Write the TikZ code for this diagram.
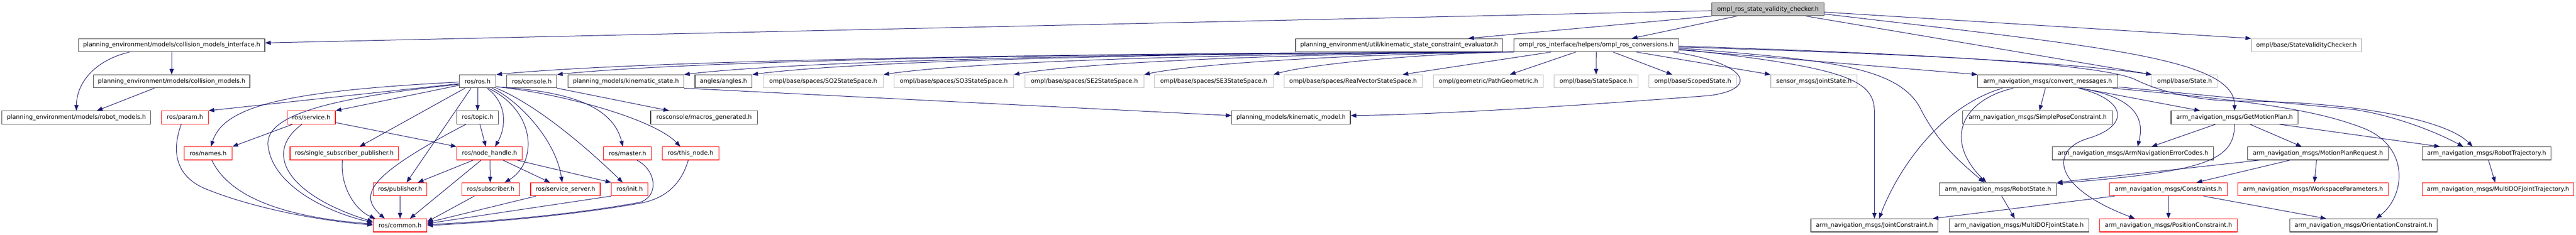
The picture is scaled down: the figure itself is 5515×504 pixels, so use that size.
\documentclass[tikz,border=0pt]{standalone}
\usepackage{fontspec}
\setmainfont{DejaVu Sans}
\usetikzlibrary{arrows.meta}
\definecolor{edgeblue}{HTML}{191970}
\definecolor{docgray}{HTML}{404040}
\definecolor{extgray}{HTML}{BFBFBF}
\definecolor{curfill}{HTML}{BFBFBF}
\definecolor{truncred}{HTML}{FF0000}
\newcommand{\depfont}{\fontsize{12.8pt}{15pt}\selectfont}
\tikzset{
  hdrbox/.style={draw, line width=1.3pt, inner sep=0pt, minimum height=28pt, font=\depfont},
  docbox/.style={hdrbox, draw=docgray},
  redbox/.style={hdrbox, draw=truncred},
  extbox/.style={hdrbox, draw=extgray},
  curbox/.style={hdrbox, draw=docgray, fill=curfill},
  bw/.style={minimum width=#1pt},
  dep/.style={draw=edgeblue, line width=1.1pt, -{Triangle[length=12pt,width=9pt]}}
}
\begin{document}
\begin{tikzpicture}[x=1pt, y=-1pt]
\useasboundingbox (0,0) rectangle (5515,504);
\node[curbox, bw=240] (checker) at (3785,20) {ompl\_ros\_state\_validity\_checker.h};
\node[docbox, bw=399] (cmi) at (367.5,97) {planning\_environment/models/collision\_models\_interface.h};
\node[docbox, bw=443] (ksce) at (2995.5,97) {planning\_environment/util/kinematic\_state\_constraint\_evaluator.h};
\node[docbox, bw=353] (conversions) at (3417.5,97) {ompl\_ros\_interface/helpers/ompl\_ros\_conversions.h};
\node[extbox, bw=236] (svchecker) at (4938,97) {ompl/base/StateValidityChecker.h};
\node[docbox, bw=335] (cmodels) at (367.5,174.5) {planning\_environment/models/collision\_models.h};
\node[docbox, bw=79] (ros) at (1022.5,174.5) {ros/ros.h};
\node[docbox, bw=107] (console) at (1138.5,174.5) {ros/console.h};
\node[docbox, bw=248] (kstate) at (1340,174.5) {planning\_models/kinematic\_state.h};
\node[docbox, bw=122] (angles) at (1549,174.5) {angles/angles.h};
\node[extbox, bw=257] (so2) at (1762.5,174.5) {ompl/base/spaces/SO2StateSpace.h};
\node[extbox, bw=256] (so3) at (2042,174.5) {ompl/base/spaces/SO3StateSpace.h};
\node[extbox, bw=255] (se2) at (2321.5,174.5) {ompl/base/spaces/SE2StateSpace.h};
\node[extbox, bw=255] (se3) at (2598.5,174.5) {ompl/base/spaces/SE3StateSpace.h};
\node[extbox, bw=296] (rvec) at (2897,174.5) {ompl/base/spaces/RealVectorStateSpace.h};
\node[extbox, bw=235] (pathg) at (3186.5,174.5) {ompl/geometric/PathGeometric.h};
\node[extbox, bw=180] (sspace) at (3417,174.5) {ompl/base/StateSpace.h};
\node[extbox, bw=188] (scoped) at (3624,174.5) {ompl/base/ScopedState.h};
\node[extbox, bw=185] (jstate) at (3883.5,174.5) {sensor\_msgs/JointState.h};
\node[docbox, bw=300] (convert) at (4384,174.5) {arm\_navigation\_msgs/convert\_messages.h};
\node[extbox, bw=140] (ostate) at (4677,174.5) {ompl/base/State.h};
\node[docbox, bw=319] (robot) at (163.5,252) {planning\_environment/models/robot\_models.h};
\node[redbox, bw=100] (param) at (396,252) {ros/param.h};
\node[redbox, bw=103] (service) at (666.5,252) {ros/service.h};
\node[docbox, bw=89] (topic) at (1022.5,252) {ros/topic.h};
\node[docbox, bw=229] (macros) at (1507.5,252) {rosconsole/macros\_generated.h};
\node[docbox, bw=254] (kmodel) at (2764,252) {planning\_models/kinematic\_model.h};
\node[docbox, bw=321] (spose) at (4362.5,252) {arm\_navigation\_msgs/SimplePoseConstraint.h};
\node[docbox, bw=272] (gmp) at (4784,252) {arm\_navigation\_msgs/GetMotionPlan.h};
\node[redbox, bw=103] (names) at (445.5,329) {ros/names.h};
\node[redbox, bw=232] (ssp) at (737,329) {ros/single\_subscriber\_publisher.h};
\node[redbox, bw=140] (nh) at (1048,329) {ros/node\_handle.h};
\node[redbox, bw=103] (master) at (1343.5,329) {ros/master.h};
\node[redbox, bw=121] (thisnode) at (1478.5,329) {ros/this\_node.h};
\node[docbox, bw=345] (errc) at (4566.5,329) {arm\_navigation\_msgs/ArmNavigationErrorCodes.h};
\node[docbox, bw=301] (mpr) at (4962.5,329) {arm\_navigation\_msgs/MotionPlanRequest.h};
\node[docbox, bw=275] (traj) at (5323.5,329) {arm\_navigation\_msgs/RobotTrajectory.h};
\node[redbox, bw=115] (pub) at (856.5,406) {ros/publisher.h};
\node[redbox, bw=123] (sub) at (1050.5,406) {ros/subscriber.h};
\node[redbox, bw=149] (ssrv) at (1210.5,406) {ros/service\_server.h};
\node[redbox, bw=78] (init) at (1348,406) {ros/init.h};
\node[docbox, bw=251] (rstate) at (4277.5,406) {arm\_navigation\_msgs/RobotState.h};
\node[redbox, bw=253] (cons) at (4642.5,406) {arm\_navigation\_msgs/Constraints.h};
\node[redbox, bw=322] (wsp) at (4952,406) {arm\_navigation\_msgs/WorkspaceParameters.h};
\node[redbox, bw=324] (mdjt) at (5348,406) {arm\_navigation\_msgs/MultiDOFJointTrajectory.h};
\node[redbox, bw=115] (common) at (856.5,483.5) {ros/common.h};
\node[docbox, bw=272] (jcons) at (4013,483.5) {arm\_navigation\_msgs/JointConstraint.h};
\node[docbox, bw=299] (mdjs) at (4322.5,483.5) {arm\_navigation\_msgs/MultiDOFJointState.h};
\node[redbox, bw=295] (pcons) at (4642.5,483.5) {arm\_navigation\_msgs/PositionConstraint.h};
\node[docbox, bw=316] (ocons) at (5060,483.5) {arm\_navigation\_msgs/OrientationConstraint.h};

\draw[dep] ([yshift=-3pt]checker.west) -- ([yshift=5pt]cmi.east);
\draw[dep] (checker.south west) -- ([xshift=148pt]ksce.north);
\draw[dep] ([xshift=-67pt]checker.south) -- ([xshift=76pt]conversions.north);
\draw[dep] ([yshift=-6pt]checker.east) -- (svchecker.north west);
\draw[dep] ([yshift=-10pt]checker.east) .. controls (4500,100) and (4784,125) .. (gmp.north);
\draw[dep] ([xshift=82pt]checker.south) -- (ostate.north west);

\draw[dep] ([xshift=-90pt]cmi.south) .. controls (200,130) and (164,180) .. (robot.north);
\draw[dep] (cmi) -- (cmodels);
\draw[dep] ([xshift=-37pt]cmodels.south) -- ([xshift=44pt]robot.north);

\draw[dep] ([yshift=-5pt]ros.west) -- (param.north east);
\draw[dep] ([yshift=-1.5pt]ros.west) .. controls (620,195) and (480,225) .. ([xshift=6pt]names.north);
\draw[dep] ([yshift=-6.5pt]ros.west) .. controls (650,215) and (560,260) .. (575,320) .. controls (590,400) and (700,455) .. ([yshift=6pt]common.west);
\draw[dep] ([yshift=-8.5pt]ros.west) -- (service.north east);
\draw[dep] ([xshift=-27pt]ros.south) -- ([xshift=33pt]ssp.north);
\draw[dep] ([xshift=-14pt]ros.south) -- ([xshift=14pt]pub.north);
\draw[dep] (ros) -- (topic);
\draw[dep] ([xshift=20pt]ros.south) .. controls (1085,220) and (1085,270) .. ([xshift=12pt]nh.north);
\draw[dep] ([xshift=23pt]ros.south) .. controls (1150,240) and (1150,350) .. ([xshift=30pt]sub.north);
\draw[dep] ([xshift=31pt]ros.south) .. controls (1110,215) and (1190,300) .. ([xshift=-7pt]ssrv.north);
\draw[dep] (ros.south east) .. controls (1150,225) and (1260,320) .. ([xshift=-15pt]init.north);
\draw[dep] ([yshift=3pt]ros.south east) .. controls (1200,195) and (1310,220) .. ([xshift=-10pt]master.north);
\draw[dep] ([yshift=3pt]ros.south east) .. controls (1200,200) and (1400,255) .. ([xshift=-22pt]thisnode.north);
\draw[dep] (console.south east) -- ([xshift=40pt]macros.north west);
\draw[dep] (kstate.south east) -- ([yshift=4pt]kmodel.west);
\draw[dep] ([xshift=5pt]topic.south) -- ([xshift=-8pt]nh.north);
\draw[dep] ([xshift=-25pt]topic.south) .. controls (780,380) and (770,420) .. ([xshift=-33pt]common.north);

\draw[dep] ([xshift=12pt]service.south west) -- (names.north east);
\draw[dep] ([xshift=-20pt]service.south) .. controls (560,330) and (620,420) .. ([yshift=8pt]common.west);
\draw[dep] ([yshift=-11pt]service.east) -- (nh.north west);
\draw[dep] ([xshift=8pt]names.south) .. controls (490,420) and (600,465) .. ([yshift=3pt]common.west);
\draw[dep] ([xshift=-8pt]param.south) .. controls (365,330) and (380,380) .. (440,405) .. controls (550,450) and (700,475) .. ([yshift=1pt]common.west);
\draw[dep] ([xshift=-4pt]ssp.south) .. controls (728,400) and (760,450) .. ([xshift=-53pt]common.north);
\draw[dep] (pub) -- (common);

\draw[dep] ([xshift=-35pt]nh.south) -- ([xshift=-20pt]pub.north east);
\draw[dep] ([xshift=-18pt]nh.south) -- ([xshift=-37pt]common.north east);
\draw[dep] ([xshift=1pt]nh.south) -- ([xshift=-1pt]sub.north);
\draw[dep] ([xshift=29pt]nh.south) -- ([xshift=-33pt]ssrv.north);
\draw[dep] ([xshift=59pt]nh.south) -- (init.north west);
\draw[dep] ([xshift=-35pt]sub.south) -- ([yshift=8pt]common.east);
\draw[dep] ([xshift=-63pt]ssrv.south) -- ([yshift=6pt]common.east);
\draw[dep] (init.south west) -- ([yshift=4pt]common.east);
\draw[dep] ([xshift=20pt]master.south) .. controls (1405,365) and (1412,420) .. (1370,434) .. controls (1200,465) and (1000,478) .. ([yshift=2pt]common.east);
\draw[dep] ([xshift=-5pt]thisnode.south) .. controls (1460,390) and (1430,425) .. (1370,436) .. controls (1200,466) and (1000,480) .. (common.east);

\draw[dep] (conversions.south west) .. controls (2369,113) and (1389,128) .. (ros.north east);
\draw[dep] (conversions.south west) .. controls (2421,113) and (1499,128) .. (console.north east);
\draw[dep] (conversions.south west) .. controls (2530,113) and (1731,128) .. (kstate.north east);
\draw[dep] (conversions.south west) .. controls (2589,113) and (1855,128) .. (angles.north east);
\draw[dep] (conversions.south west) .. controls (2701,114) and (2094,130) .. (so2.north east);
\draw[dep] (conversions.south west) .. controls (2813,114) and (2331,132) .. (so3.north east);
\draw[dep] (conversions.south west) .. controls (2924,115) and (2568,135) .. (se2.north east);
\draw[dep] (conversions.south west) .. controls (3035,115) and (2803,138) .. (se3.north east);
\draw[dep] ([xshift=-97pt]conversions.south) -- ([xshift=106pt]rvec.north);
\draw[dep] ([xshift=-44pt]conversions.south) -- ([xshift=46pt]pathg.north);
\draw[dep] (conversions) -- (sspace);
\draw[dep] ([xshift=36pt]conversions.south) -- ([xshift=-44pt]scoped.north);
\draw[dep] ([xshift=86pt]conversions.south) -- (jstate.north west);
\draw[dep] ([yshift=-10pt]conversions.east) -- (convert.north west);
\draw[dep] ([yshift=-4pt]conversions.east) .. controls (4000,113) and (4400,130) .. (ostate.north west);
\draw[dep] ([xshift=165pt]conversions.south) .. controls (3740,135) and (3770,190) .. (3660,205) .. controls (3400,225) and (3100,245) .. ([yshift=4pt]kmodel.east);
\draw[dep] ([yshift=-8pt]conversions.east) .. controls (3950,145) and (4013,170) .. (4013,240) -- (jcons.north);
\draw[dep] ([yshift=-6pt]conversions.east) .. controls (3900,128) and (4060,140) .. (4110,230) .. controls (4150,310) and (4200,350) .. ([xshift=-30pt]rstate.north);
\draw[dep] ([yshift=-2pt]conversions.east) .. controls (4200,118) and (4500,140) .. (4570,170) .. controls (4620,195) and (4700,217) .. (4800,217) .. controls (5000,217) and (5230,250) .. ([xshift=-30pt]traj.north);

\draw[dep] ([xshift=-5pt]convert.south) -- ([xshift=4pt]spose.north);
\draw[dep] ([xshift=-74pt]convert.south) .. controls (4200,215) and (4160,300) .. ([xshift=-25pt]rstate.north);
\draw[dep] ([xshift=-97pt]convert.south) .. controls (4150,230) and (4060,370) .. ([xshift=10pt]jcons.north);
\draw[dep] ([xshift=66pt]convert.south) .. controls (4555,215) and (4560,270) .. (4470,297) .. controls (4390,321) and (4390,400) .. ([xshift=-72pt]pcons.north);
\draw[dep] ([xshift=69pt]convert.south) .. controls (4580,210) and (4590,260) .. ([xshift=10pt]errc.north);
\draw[dep] ([xshift=71pt]convert.south) -- ([xshift=-74pt]gmp.north);
\draw[dep] ([yshift=-12pt]convert.east) -- (5040,235) .. controls (5110,245) and (5200,275) .. ([xshift=-50pt]traj.north);
\draw[dep] ([xshift=139pt]convert.south) .. controls (4800,215) and (4950,232) .. (5060,275) .. controls (5160,315) and (5150,420) .. ([xshift=27pt]ocons.north);

\draw[dep] ([xshift=-41pt]gmp.south) -- ([xshift=40pt]errc.north);
\draw[dep] ([xshift=33pt]gmp.south) -- ([xshift=-35pt]mpr.north);
\draw[dep] ([xshift=96pt]gmp.south) -- ([xshift=-100pt]traj.north);
\draw[dep] (gmp.south) .. controls (4784,345) and (4720,368) .. ([yshift=-2pt]rstate.north east);
\draw[dep] ([xshift=-125pt]mpr.south) -- (rstate.north east);
\draw[dep] ([xshift=-60pt]mpr.south) -- ([xshift=60pt]cons.north);
\draw[dep] ([xshift=-3pt]mpr.south) -- ([xshift=3pt]wsp.north);
\draw[dep] (cons) -- (pcons);
\draw[dep] ([xshift=75pt]cons.south) -- ([xshift=-80pt]ocons.north);
\draw[dep] ([xshift=12pt]cons.south west) -- ([xshift=-12pt]jcons.north east);
\draw[dep] ([xshift=8pt]rstate.south) -- ([xshift=-9pt]mdjs.north);
\draw[dep] ([xshift=4pt]traj.south) -- ([xshift=-6pt]mdjt.north);
\end{tikzpicture}
\end{document}
